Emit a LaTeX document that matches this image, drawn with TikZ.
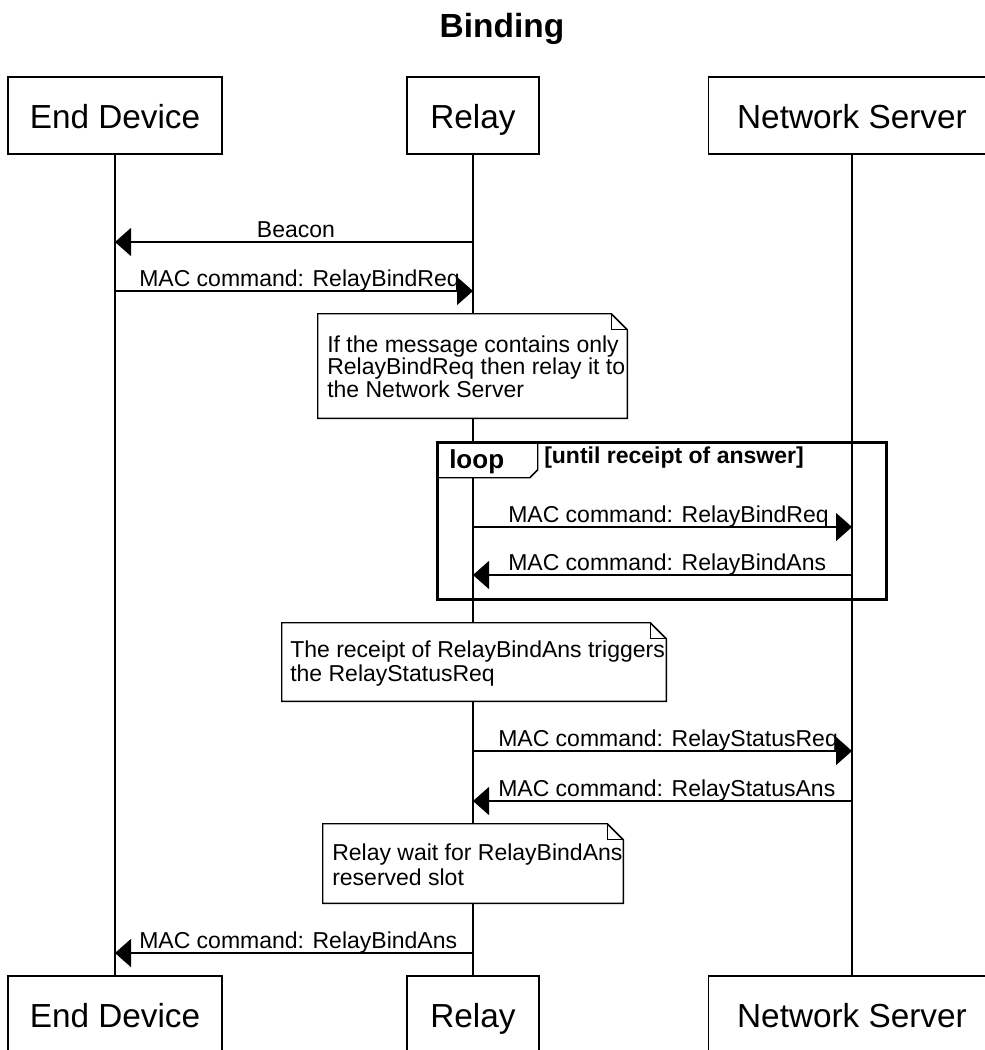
\documentclass[tikz,border=0pt]{standalone}
\usepackage{fontspec}
\setmainfont{Liberation Sans}
\usetikzlibrary{arrows.meta}

\begin{document}
\begin{tikzpicture}[x=0.75pt,y=-0.75pt,
  titlefont/.style={inner sep=0pt, anchor=base, font=\fontsize{25.1}{30}\selectfont\bfseries},
  participant/.style={draw=black, line width=1.4pt, fill=white, inner sep=0pt,
    minimum height=57.75pt, font=\fontsize{25}{29}\selectfont,
    text height=18.75pt, text depth=0pt},
  lifeline/.style={line width=1pt},
  msg/.style={line width=1.1pt, -{Triangle[length=12pt,width=21pt]}},
  lbl/.style={inner sep=0pt, anchor=base west, font=\fontsize{17.25}{20}\selectfont},
  notebox/.style={fill=white, inner sep=0pt},
  noteline/.style={line width=1.1pt, line join=miter},
  framelabel/.style={inner sep=0pt, anchor=base west, font=\fontsize{19.5}{22}\selectfont\bfseries},
  framecond/.style={inner sep=0pt, anchor=base west, font=\fontsize{17.25}{20}\selectfont\bfseries},
]
\useasboundingbox (0,0) rectangle (985,1050);
\fill[white] (0,0) rectangle (985,1050);

% title
\node[titlefont] (title) at (502,37) {Binding};

% participants, top and bottom
\node[participant, minimum width=160.5pt]  (edTop)    at (115,115.5) {End Device};
\node[participant, minimum width=99pt]     (relayTop) at (473,115.5) {Relay};
\node[participant, minimum width=215.25pt] (nsTop)    at (852,115.5) {Network Server};
\node[participant, minimum width=160.5pt]  (edBot)    at (115,1014.5) {End Device};
\node[participant, minimum width=99pt]     (relayBot) at (473,1014.5) {Relay};
\node[participant, minimum width=215.25pt] (nsBot)    at (852,1014.5) {Network Server};

% lifelines
\draw[lifeline] (edTop) -- (edBot);
\draw[lifeline] (relayTop) -- (relayBot);
\draw[lifeline] (nsTop) -- (nsBot);

% message end points on the lifelines
\coordinate (m1a) at (473,242); \coordinate (m1b) at (115,242);
\coordinate (m2a) at (115,291); \coordinate (m2b) at (473,291);
\coordinate (m3a) at (473,527); \coordinate (m3b) at (852,527);
\coordinate (m4a) at (852,575); \coordinate (m4b) at (473,575);
\coordinate (m5a) at (473,751); \coordinate (m5b) at (852,751);
\coordinate (m6a) at (852,801); \coordinate (m6b) at (473,801);
\coordinate (m7a) at (473,953); \coordinate (m7b) at (115,953);

% Beacon and bind request
\draw[msg] (m1a) -- (m1b);
\node[lbl, anchor=base] (l1) at (296,237) {Beacon};
\draw[msg] (m2a) -- (m2b);
\node[lbl] (l2) at (139,286) {MAC command: RelayBindReq};

% note 1
\node[notebox, minimum width=231.75pt, minimum height=78pt] (note1) at (472.5,366) {};
\draw[noteline] (note1.north west) -- ([xshift=-12pt]note1.north east)
  -- ([yshift=-12pt]note1.north east) -- (note1.south east) -- (note1.south west) -- cycle;
\draw[noteline] ([xshift=-12pt]note1.north east) |- ([yshift=-12pt]note1.north east);
\node[lbl] (n1a) at (327,352) {If the message contains only};
\node[lbl] (n1b) at (327,374.5) {RelayBindReq then relay it to};
\node[lbl] (n1c) at (327,397) {the Network Server};

% loop fragment
\node[inner sep=0pt, minimum width=336pt, minimum height=117pt] (loopframe) at (662,521) {};
\fill[white] (loopframe.north west) -- ++(75pt,0) -- ++(0,-20.25pt) -- ++(-6pt,-6pt)
  -- ++(-69pt,0) -- cycle;
\draw[line width=1.9pt] (loopframe.north west) rectangle (loopframe.south east);
\draw[line width=1.1pt, line join=miter] ([xshift=75pt]loopframe.north west) -- ++(0,-20.25pt)
  -- ++(-6pt,-6pt) -- ++(-69pt,0);
\node[framelabel] (looplbl) at (449,468) {loop};
\node[framecond] (loopcond) at (544,463) {[until receipt of answer]};

\draw[msg] (m3a) -- (m3b);
\node[lbl] (l3) at (508,522) {MAC command: RelayBindReq};
\draw[msg] (m4a) -- (m4b);
\node[lbl] (l4) at (508,570) {MAC command: RelayBindAns};

% note 2
\node[notebox, minimum width=288pt, minimum height=58.5pt] (note2) at (474,662) {};
\draw[noteline] (note2.north west) -- ([xshift=-12pt]note2.north east)
  -- ([yshift=-12pt]note2.north east) -- (note2.south east) -- (note2.south west) -- cycle;
\draw[noteline] ([xshift=-12pt]note2.north east) |- ([yshift=-12pt]note2.north east);
\node[lbl] (n2a) at (290,657.5) {The receipt of RelayBindAns triggers};
\node[lbl] (n2b) at (290,681.5) {the RelayStatusReq};

% status request / answer
\draw[msg] (m5a) -- (m5b);
\node[lbl] (l5) at (498,746) {MAC command: RelayStatusReq};
\draw[msg] (m6a) -- (m6b);
\node[lbl] (l6) at (498,796) {MAC command: RelayStatusAns};

% note 3
\node[notebox, minimum width=225pt, minimum height=59.25pt] (note3) at (473,863.5) {};
\draw[noteline] (note3.north west) -- ([xshift=-12pt]note3.north east)
  -- ([yshift=-12pt]note3.north east) -- (note3.south east) -- (note3.south west) -- cycle;
\draw[noteline] ([xshift=-12pt]note3.north east) |- ([yshift=-12pt]note3.north east);
\node[lbl] (n3a) at (332,860) {Relay wait for RelayBindAns};
\node[lbl] (n3b) at (332,885) {reserved slot};

% bind answer forwarded to the end device
\draw[msg] (m7a) -- (m7b);
\node[lbl] (l7) at (139,948) {MAC command: RelayBindAns};

\end{tikzpicture}
\end{document}
